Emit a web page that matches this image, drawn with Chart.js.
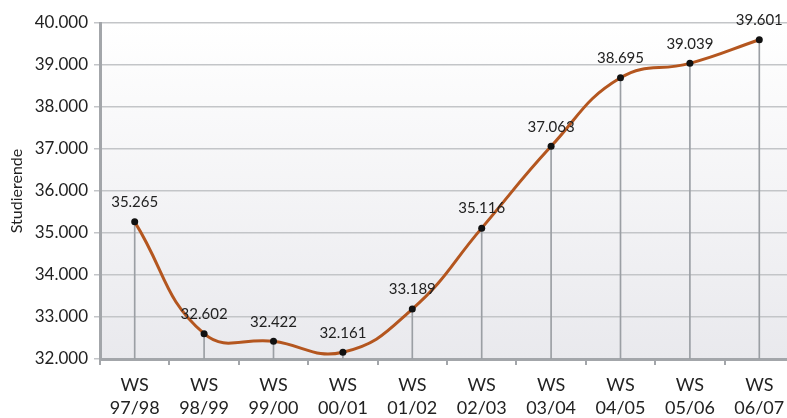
<!DOCTYPE html>
<html lang="de">
  <head>
    <meta charset="UTF-8" />
    <title>Studierende WS 97/98 - 06/07</title>
    <script src="https://cdn.jsdelivr.net/npm/chart.js"></script>
    <style>
      html, body { margin: 0; padding: 0; overflow: hidden; background: #fff; }
      #wrap { width: 800px; height: 418px; }
    </style>
  </head>
  <body>
    <div id="wrap"><canvas id="chart"></canvas></div>
    <script>
      const semesters = [
        ["WS", "97/98"], ["WS", "98/99"], ["WS", "99/00"], ["WS", "00/01"], ["WS", "01/02"],
        ["WS", "02/03"], ["WS", "03/04"], ["WS", "04/05"], ["WS", "05/06"], ["WS", "06/07"],
      ];
      const studierende = [35265, 32602, 32422, 32161, 33189, 35116, 37063, 38695, 39039, 39601];
      const yMin = 32000;
      const yMax = 40000;
      const yStep = 1000;

      const fmt = (v) => (v / 1000).toFixed(3);
      const FONT = "Lato, 'Open Sans', sans-serif";

      // light gradient behind the plot
      const backdrop = {
        id: "backdrop",
        beforeDraw(chart) {
          const { ctx, chartArea: a } = chart;
          const g = ctx.createLinearGradient(0, a.top, 0, a.bottom);
          g.addColorStop(0, "#ffffff");
          g.addColorStop(1, "#e9e9ed");
          ctx.save();
          ctx.fillStyle = g;
          ctx.fillRect(a.left, a.top, a.right - a.left, a.bottom - a.top);
          ctx.restore();
        },
      };

      // value labels above the points
      const valueLabels = {
        id: "valueLabels",
        afterDatasetsDraw(chart) {
          const { ctx } = chart;
          const meta = chart.getDatasetMeta(0);
          ctx.save();
          ctx.font = "15px " + FONT;
          ctx.fillStyle = "#222";
          ctx.textAlign = "center";
          ctx.textBaseline = "bottom";
          meta.data.forEach((pt, i) => {
            ctx.fillText(fmt(studierende[i]), pt.x, pt.y - 12);
          });
          ctx.restore();
        },
      };

      new Chart(document.getElementById("chart"), {
        data: {
          labels: semesters,
          datasets: [
            {
              type: "line",
              data: studierende,
              borderColor: "#b4561f",
              borderWidth: 3,
              tension: 0.45,
              pointRadius: 3.5,
              pointBackgroundColor: "#111",
              pointBorderWidth: 0,
              order: 0,
            },
            {
              type: "bar",
              data: studierende,
              backgroundColor: "#9b9fa4",
              barThickness: 1,
              order: 1,
            },
          ],
        },
        options: {
          responsive: true,
          maintainAspectRatio: false,
          animation: false,
          layout: { padding: { top: 23, right: 6, left: 5, bottom: 0 } },
          plugins: { legend: { display: false }, tooltip: { enabled: false } },
          scales: {
            x: {
              offset: true,
              afterFit: (s) => { s.height = 59; },
              grid: {
                offset: true,
                drawOnChartArea: false,
                drawTicks: true,
                tickLength: 6,
                color: "#a3a6aa",
                lineWidth: 2,
              },
              border: { color: "#a3a6aa", width: 3 },
              ticks: {
                color: "#222",
                font: { family: FONT, size: 18, lineHeight: 1.3 },
                padding: 8,
              },
            },
            y: {
              min: yMin,
              max: yMax,
              afterFit: (s) => { s.width = 95; },
              ticks: {
                stepSize: yStep,
                color: "#222",
                font: { family: FONT, size: 17 },
                padding: 6,
                callback: (v) => fmt(v),
              },
              grid: { color: "#c3c5c8", lineWidth: 1.5, tickLength: 6 },
              border: { color: "#a3a6aa", width: 3 },
              title: {
                display: true,
                text: "Studierende",
                color: "#222",
                font: { family: FONT, size: 16 },
                padding: { top: 2, bottom: 0 },
              },
            },
          },
        },
        plugins: [backdrop, valueLabels],
      });
    </script>
  </body>
</html>
